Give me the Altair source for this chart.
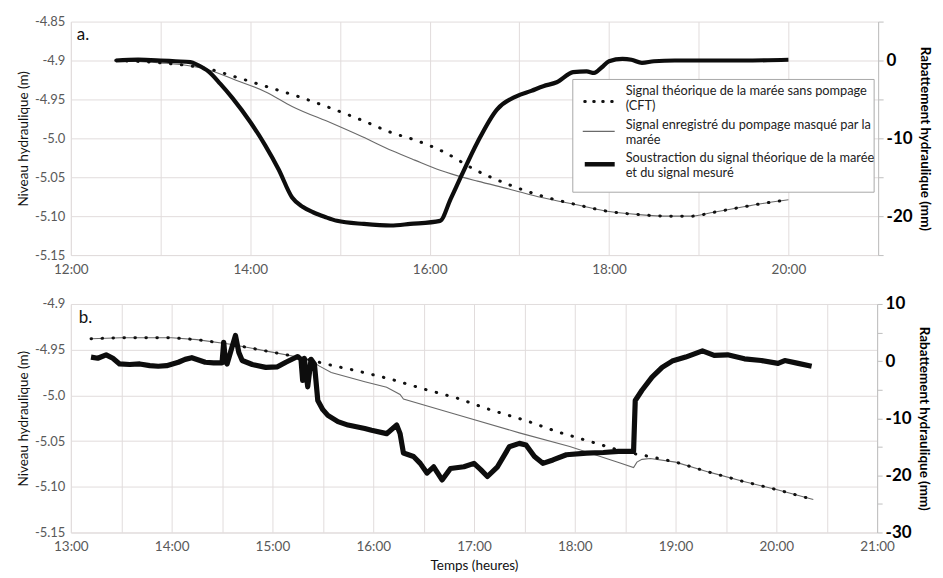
import altair as alt
import pandas as pd

FONT = "Lato"

# ---------------- Panel a (top) ----------------
top_cft_time = ["12:30", "13:00", "13:20", "13:30", "13:50", "14:10", "14:30", "14:55", "15:15", "15:35",
                "15:50", "16:10", "16:30", "16:55", "17:15", "17:40", "18:00", "18:20", "18:40", "18:55",
                "19:10", "19:30", "19:45", "20:00"]
top_cft = [-4.900, -4.903, -4.907, -4.910, -4.921, -4.933, -4.945, -4.962, -4.977, -4.993,
           -5.002, -5.018, -5.040, -5.061, -5.074, -5.086, -5.094, -5.098, -5.100, -5.100,
           -5.095, -5.088, -5.083, -5.079]

top_rec_time = ["12:30", "13:00", "13:20", "13:30", "13:50", "14:10", "14:28", "14:55", "15:15", "15:35",
                "15:50", "16:07", "16:15", "16:32", "16:53", "17:15", "17:40", "18:00", "18:20", "18:40",
                "18:55", "19:10", "19:30", "19:45", "20:00"]
top_rec = [-4.900, -4.903, -4.907, -4.911, -4.925, -4.940, -4.959, -4.981, -4.998, -5.016,
           -5.028, -5.041, -5.046, -5.055, -5.065, -5.076, -5.086, -5.094, -5.098, -5.100,
           -5.100, -5.095, -5.088, -5.083, -5.079]

top_sub_time = ["12:30", "12:45", "13:00", "13:10", "13:20", "13:25", "13:32", "13:40", "13:48", "14:00",
                "14:10", "14:19", "14:28", "14:35", "14:42", "14:50", "14:58", "15:16", "15:34", "15:47",
                "16:07", "16:14", "16:21", "16:32", "16:45", "16:58", "17:08", "17:16", "17:25", "17:36",
                "17:45", "17:50", "17:55", "18:00", "18:09", "18:15", "18:22", "18:30", "18:44", "19:00",
                "19:30", "20:00"]
top_sub = [0.0, 0.1, 0.0, -0.1, -0.2, -0.6, -1.4, -3.0, -4.8, -7.9,
           -10.9, -14.0, -17.6, -18.8, -19.5, -20.1, -20.6, -21.0, -21.2, -21.0,
           -20.6, -17.8, -14.9, -10.5, -6.3, -4.6, -3.9, -3.3, -2.8, -1.5,
           -1.4, -1.6, -0.9, -0.1, 0.2, 0.1, -0.3, -0.1, 0.0, 0.0,
           0.0, 0.1]

# ---------------- Panel b (bottom) ----------------
bot_cft_time = ["13:12", "13:30", "14:00", "14:15", "14:35", "14:55", "15:15", "15:35", "15:50", "16:10",
                "16:30", "16:50", "17:10", "17:30", "17:50", "18:10", "18:30", "18:45", "19:00", "19:20",
                "19:40", "20:00", "20:22"]
bot_cft = [-4.938, -4.937, -4.937, -4.939, -4.944, -4.951, -4.958, -4.967, -4.973, -4.982,
           -4.993, -5.003, -5.016, -5.027, -5.040, -5.051, -5.062, -5.067, -5.073, -5.084,
           -5.094, -5.103, -5.114]

bot_rec_time = ["13:12", "13:30", "14:00", "14:15", "14:35", "14:55", "15:15", "15:22", "15:28", "15:35",
                "15:55", "16:08", "16:16", "16:18", "16:48", "17:27", "17:57", "18:27", "18:35", "18:37",
                "18:40", "18:45", "19:00", "19:20", "19:40", "20:00", "20:22"]
bot_rec = [-4.938, -4.937, -4.937, -4.939, -4.944, -4.951, -4.958, -4.961, -4.968, -4.975,
           -4.985, -4.991, -4.999, -5.004, -5.020, -5.041, -5.056, -5.074, -5.079, -5.073,
           -5.070, -5.069, -5.073, -5.084, -5.094, -5.103, -5.114]

bot_sub_time = ["13:12", "13:16", "13:21", "13:25", "13:29", "13:35", "13:41", "13:47", "13:52", "13:57",
                "14:04", "14:08", "14:12", "14:16", "14:20", "14:25", "14:30", "14:31", "14:32", "14:33",
                "14:36", "14:38", "14:40", "14:42", "14:48", "14:56", "15:03", "15:08", "15:15", "15:17",
                "15:18", "15:19", "15:21", "15:23", "15:25", "15:27", "15:30", "15:33", "15:39", "15:45",
                "15:55", "15:59", "16:08", "16:14", "16:16", "16:18", "16:24", "16:28", "16:32", "16:36",
                "16:41", "16:46", "16:54", "17:00", "17:04", "17:08", "17:14", "17:21", "17:27", "17:31",
                "17:36", "17:41", "17:47", "17:55", "18:07", "18:17", "18:26", "18:35", "18:36", "18:40",
                "18:46", "18:52", "18:58", "19:06", "19:16", "19:23", "19:31", "19:41", "19:51", "20:01",
                "20:05", "20:13", "20:21"]
bot_sub = [0.7, 0.5, 1.1, 0.5, -0.5, -0.6, -0.5, -0.8, -0.9, -0.8,
           -0.2, 0.3, 0.6, 0.2, -0.2, -0.3, -0.3, 3.3, 0.0, -0.5,
           2.5, 4.5, 1.5, 0.1, -0.6, -1.1, -1.0, -0.2, 0.8, 0.3,
           -3.4, 0.5, -4.5, 0.3, -0.5, -6.9, -8.5, -9.5, -10.6, -11.2,
           -11.8, -12.1, -12.7, -11.2, -12.7, -16.1, -16.7, -17.9, -19.6, -18.5,
           -20.8, -18.8, -18.5, -17.9, -19.0, -20.2, -18.5, -15.0, -14.4, -14.7,
           -16.7, -17.9, -17.3, -16.4, -16.1, -16.0, -15.8, -15.8, -6.9, -5.1,
           -2.8, -1.1, 0.0, 0.7, 1.8, 1.0, 1.1, 0.4, 0.1, -0.4,
           0.1, -0.4, -0.9]

# ---------------- Axis ticks / labels ----------------
top_x_ticks = [12, 13, 14, 15, 16, 17, 18, 19, 20, 21]
top_x_labels = ["12:00", "", "14:00", "", "16:00", "", "18:00", "", "20:00", ""]
bot_x_ticks = [13, 13.5, 14, 14.5, 15, 15.5, 16, 16.5, 17, 17.5, 18, 18.5, 19, 19.5, 20, 20.5, 21]
bot_x_labels = ["13:00", "", "14:00", "", "15:00", "", "16:00", "", "17:00", "", "18:00", "",
                "19:00", "", "20:00", "", "21:00"]
top_left_ticks = [-4.85, -4.9, -4.95, -5.0, -5.05, -5.10, -5.15]
top_left_labels = ["-4.85", "-4.9", "-4.95", "-5.0", "-5.05", "-5.10", "-5.15"]
top_right_ticks = [5, 0, -5, -10, -15, -20, -25]
top_right_labels = ["", "0", "", "-10", "", "-20", ""]
bot_left_ticks = [-4.9, -4.95, -5.0, -5.05, -5.10, -5.15]
bot_left_labels = ["-4.9", "-4.95", "-5.0", "-5.05", "-5.10", "-5.15"]
bot_right_ticks = [10, 5, 0, -5, -10, -15, -20, -25, -30]
bot_right_labels = ["10", "", "0", "", "-10", "", "-20", "", "-30"]

legend_labels = ["Signal théorique de la marée sans pompage\n(CFT)",
                 "Signal enregistré du pompage masqué par la\nmarée",
                 "Soustraction du signal théorique de la marée\net du signal mesuré"]

GRID = "#e1dcdc"
DOT_DASH = [0.5, 10.5]


def hours(t):
    h, m = t.split(":")
    return int(h) + int(m) / 60.0


def frame(times, vals):
    return pd.DataFrame({"t": [hours(t) for t in times], "v": vals})


def label_expr(ticks, labels):
    parts = [f"abs(datum.value - ({v})) < 1e-6 ? '{l}'" for v, l in zip(ticks, labels)]
    return " : ".join(parts) + " : ''"


def x_enc(domain, ticks, labels, title=None):
    kw = dict(values=ticks, labelExpr=label_expr(ticks, labels), grid=True, gridColor=GRID,
              ticks=False, domainColor=GRID, labelColor="#595959", labelFont=FONT,
              labelFontSize=13.5, labelPadding=7, labelFlush=False)
    if title:
        kw.update(title=title, titleFont=FONT, titleFontSize=13.5, titleFontWeight="normal",
                  titleColor="#111", titlePadding=6)
    else:
        kw.update(title=None)
    return alt.X("t:Q", scale=alt.Scale(domain=domain, nice=False, zero=False), axis=alt.Axis(**kw))


def y_left(domain, ticks, labels):
    return alt.Y("v:Q", scale=alt.Scale(domain=domain, nice=False, zero=False),
                 axis=alt.Axis(values=ticks, labelExpr=label_expr(ticks, labels), grid=True,
                               gridColor=GRID, ticks=False, domainColor=GRID,
                               labelColor="#595959", labelFont=FONT, labelFontSize=13,
                               labelPadding=6, title="Niveau hydraulique (m)", titleFont=FONT,
                               titleFontSize=13.5, titleFontWeight="normal", titleColor="#111",
                               titlePadding=4))


def y_right(domain, ticks, labels):
    return alt.Y("v:Q", scale=alt.Scale(domain=domain, nice=False, zero=False),
                 axis=alt.Axis(orient="right", values=ticks, labelExpr=label_expr(ticks, labels),
                               grid=False, ticks=True, tickSize=5, tickColor="#bfbfbf",
                               domainColor="#bfbfbf", labelColor="#000", labelFont=FONT,
                               labelFontSize=17, labelFontWeight="bold", labelPadding=3,
                               title="Rabattement hydraulique (mm)", titleFont=FONT,
                               titleFontSize=13.5, titleFontWeight="bold", titleColor="#000",
                               titlePadding=5))


def panel(x, ly, ry, cft, rec, sub, letter, w, h, thick_w, interp, legend=False, letter_pos=(6, 6)):
    dotted = alt.Chart(cft).mark_line(color="#111", strokeWidth=3, strokeDash=DOT_DASH,
                                      strokeCap="round", interpolate=interp).encode(x=x, y=ly)
    thin = alt.Chart(rec).mark_line(color="#6a6a6a", strokeWidth=1.1,
                                    interpolate=interp).encode(x=x, y=ly)
    left = alt.layer(thin, dotted)
    thick = alt.Chart(sub).mark_line(color="#0d0d0d", strokeWidth=thick_w, strokeJoin="round",
                                     interpolate=interp).encode(x=x, y=ry)
    one = alt.Data(values=[{"k": 1}])
    lab = alt.Chart(one).mark_text(text=letter, font=FONT, fontSize=17, color="#111",
                                   align="left", baseline="top").encode(
        x=alt.value(letter_pos[0]), y=alt.value(letter_pos[1]))
    layers = [left, thick, lab]
    if legend:
        bx0, by0 = 503, 58
        box = alt.Chart(one).mark_rect(fill="white", stroke="#a9a9a9", strokeWidth=1).encode(
            x=alt.value(bx0), x2=alt.value(bx0 + 302), y=alt.value(by0), y2=alt.value(by0 + 113))
        s1 = alt.Chart(one).mark_rule(color="#111", strokeWidth=3, strokeDash=[0.5, 8.5],
                                      strokeCap="round").encode(
            x=alt.value(bx0 + 12), x2=alt.value(bx0 + 42), y=alt.value(by0 + 22))
        s2 = alt.Chart(one).mark_rule(color="#6a6a6a", strokeWidth=1.2).encode(
            x=alt.value(bx0 + 10), x2=alt.value(bx0 + 42), y=alt.value(by0 + 52))
        s3 = alt.Chart(one).mark_rule(color="#0d0d0d", strokeWidth=4.5).encode(
            x=alt.value(bx0 + 12), x2=alt.value(bx0 + 42), y=alt.value(by0 + 85))
        texts = []
        for i, yy in enumerate([by0 + 6, by0 + 40, by0 + 73]):
            texts.append(alt.Chart(one).mark_text(
                text=legend_labels[i], lineBreak="\n", lineHeight=15, font=FONT, fontSize=12.8,
                color="#222", align="left", baseline="top").encode(
                x=alt.value(bx0 + 53), y=alt.value(yy)))
        layers += [box, s1, s2, s3] + texts
    return alt.layer(*layers).resolve_scale(y="independent").properties(width=w, height=h)


top = panel(
    x_enc([12, 21], top_x_ticks, top_x_labels),
    y_left([-5.15, -4.85], top_left_ticks, top_left_labels),
    y_right([-25, 5], top_right_ticks, top_right_labels),
    frame(top_cft_time, top_cft), frame(top_rec_time, top_rec), frame(top_sub_time, top_sub),
    "a.", 809, 234, 4.2, "monotone", legend=True, letter_pos=(6, 5))

bottom = panel(
    x_enc([13, 21], bot_x_ticks, bot_x_labels, title="Temps (heures)"),
    y_left([-5.15, -4.9], bot_left_ticks, bot_left_labels),
    y_right([-30, 10], bot_right_ticks, bot_right_labels),
    frame(bot_cft_time, bot_cft), frame(bot_rec_time, bot_rec), frame(bot_sub_time, bot_sub),
    "b.", 808, 229, 5.2, "linear", letter_pos=(8, 6))

chart = alt.vconcat(top, bottom, spacing=19).properties(
    padding={"left": 8, "right": 3, "top": 7, "bottom": 2},
    background="white",
).configure_view(stroke=None)

chart.save("out.html", embed_options={"renderer": "svg", "actions": False})
